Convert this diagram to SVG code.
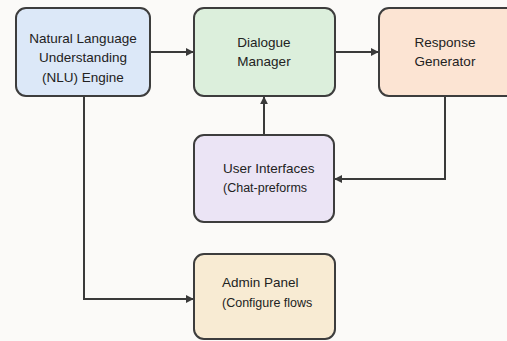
<svg xmlns="http://www.w3.org/2000/svg" width="507" height="341" viewBox="0 0 507 341">
<style>
.box{stroke:#3d3d3d;stroke-width:2}
.t{font-family:"Liberation Sans",Arial,sans-serif;font-size:13.5px;fill:#222}
.s{font-family:"Liberation Sans",Arial,sans-serif;font-size:12.5px;fill:#222}
.c{text-anchor:middle}
.ln{fill:none;stroke:#3a3a3a;stroke-width:2}
</style>
<defs>
<marker id="ah" viewBox="0 0 10 10" refX="9" refY="5" markerWidth="8" markerHeight="8" orient="auto" markerUnits="userSpaceOnUse">
<path d="M0,0 L10,5 L0,10 z" fill="#3a3a3a"/>
</marker>
</defs>
<rect width="507" height="341" fill="#fbfaf8"/>
<g id="connectors">
<line class="ln" x1="151" y1="52" x2="193" y2="52" marker-end="url(#ah)"/>
<line class="ln" x1="336" y1="52" x2="378" y2="52" marker-end="url(#ah)"/>
<line class="ln" x1="264" y1="134" x2="264" y2="97" marker-end="url(#ah)"/>
<polyline class="ln" points="445,96 445,179 335,179" marker-end="url(#ah)"/>
<polyline class="ln" points="84,96 84,299 193,299" marker-end="url(#ah)"/>
</g>
<g id="nlu">
<rect class="box" x="16" y="8" width="134" height="88" rx="10" fill="#dce8f8"/>
<text class="t c" x="83" y="43">Natural Language</text>
<text class="t c" x="83" y="62">Understanding</text>
<text class="t c" x="83" y="82">(NLU) Engine</text>
</g>
<g id="dialogue">
<rect class="box" x="194" y="8" width="141" height="88" rx="10" fill="#dcefdc"/>
<text class="t c" x="264" y="47">Dialogue</text>
<text class="t c" x="264" y="66">Manager</text>
</g>
<g id="response">
<rect class="box" x="379" y="8" width="140" height="88" rx="10" fill="#fce4d3"/>
<text class="t c" x="445" y="47">Response</text>
<text class="t c" x="445" y="66">Generator</text>
</g>
<g id="ui">
<rect class="box" x="194" y="135" width="140" height="87" rx="10" fill="#ebe4f5"/>
<text class="t" x="223" y="173">User Interfaces</text>
<text class="s" x="223" y="192">(Chat-preforms</text>
</g>
<g id="admin">
<rect class="box" x="194" y="254" width="141" height="85" rx="10" fill="#f8ebd3"/>
<text class="t" x="222" y="287">Admin Panel</text>
<text class="s" x="222" y="307">(Configure flows</text>
</g>
</svg>
